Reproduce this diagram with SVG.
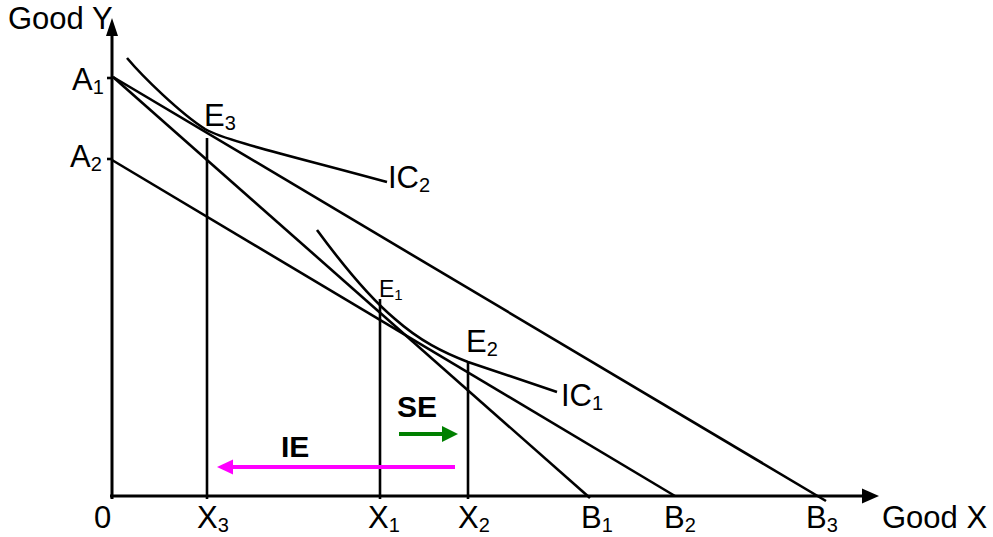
<svg xmlns="http://www.w3.org/2000/svg" width="993" height="537" viewBox="0 0 993 537">
<style>
.ln{stroke:#000;stroke-width:2.6;fill:none;stroke-linecap:butt}
.ax{stroke:#000;stroke-width:3;fill:none}
text{font-family:"Liberation Sans",Arial,sans-serif;font-size:31px;fill:#000}
.sub{font-size:20px}
.b{font-weight:bold;font-size:30px}
</style>
<rect width="993" height="537" fill="#fff"/>
<g id="axes">
<line class="ax" x1="112" y1="499" x2="112" y2="34"/>
<polygon points="112,18 106,36 118,36" fill="#000"/>
<line class="ax" x1="110" y1="496" x2="864" y2="496"/>
<polygon points="879,496 862,488.5 862,503.5" fill="#000"/>
<line class="ln" x1="107" y1="78" x2="112" y2="78"/>
<line class="ln" x1="107" y1="159" x2="112" y2="159"/>
</g>
<g id="connectors">
<line class="ln" x1="113" y1="77" x2="590" y2="498"/>
<line class="ln" x1="113" y1="77" x2="826" y2="501"/>
<line class="ln" x1="112" y1="160" x2="675" y2="496"/>
<line class="ln" x1="207" y1="138" x2="207" y2="499"/>
<line class="ln" x1="380" y1="299" x2="380" y2="499"/>
<line class="ln" x1="468" y1="363" x2="468" y2="499"/>
</g>
<g id="IC2">
<path class="ln" d="M127,58 C143,77 180,113 205,129 C225,141 300,158 387,182"/>
<text x="388" y="188">IC<tspan class="sub" dy="4">2</tspan></text>
</g>
<g id="IC1">
<path class="ln" d="M317,230 C342,264 370,298 395,319 C420,341 443,352.5 468,362 L557,392"/>
<text x="561" y="406">IC<tspan class="sub" dy="4">1</tspan></text>
</g>
<g id="labels">
<text x="8" y="29">Good Y</text>
<text x="72" y="90">A<tspan class="sub" dy="4">1</tspan></text>
<text x="70" y="167">A<tspan class="sub" dy="4">2</tspan></text>
<text x="204" y="126">E<tspan class="sub" dy="4">3</tspan></text>
<text x="379" y="297" style="font-size:23px">E<tspan style="font-size:15px" dy="3">1</tspan></text>
<text x="466" y="352">E<tspan class="sub" dy="4">2</tspan></text>
<text x="94" y="528">0</text>
<text x="197" y="528">X<tspan class="sub" dy="4">3</tspan></text>
<text x="368" y="528">X<tspan class="sub" dy="4">1</tspan></text>
<text x="458" y="528">X<tspan class="sub" dy="4">2</tspan></text>
<text x="581" y="528">B<tspan class="sub" dy="4">1</tspan></text>
<text x="664" y="528">B<tspan class="sub" dy="4">2</tspan></text>
<text x="806" y="528">B<tspan class="sub" dy="4">3</tspan></text>
<text x="882" y="528">Good X</text>
</g>
<g id="SE">
<line x1="399" y1="434" x2="445" y2="434" stroke="#008000" stroke-width="4"/>
<polygon points="458,434 442,426 442,442" fill="#008000"/>
<text class="b" x="397" y="417">SE</text>
</g>
<g id="IE">
<line x1="232" y1="467" x2="455" y2="467" stroke="#ff00ff" stroke-width="4"/>
<polygon points="217,467 233,459.5 233,474.5" fill="#ff00ff"/>
<text class="b" x="281" y="457">IE</text>
</g>
</svg>
